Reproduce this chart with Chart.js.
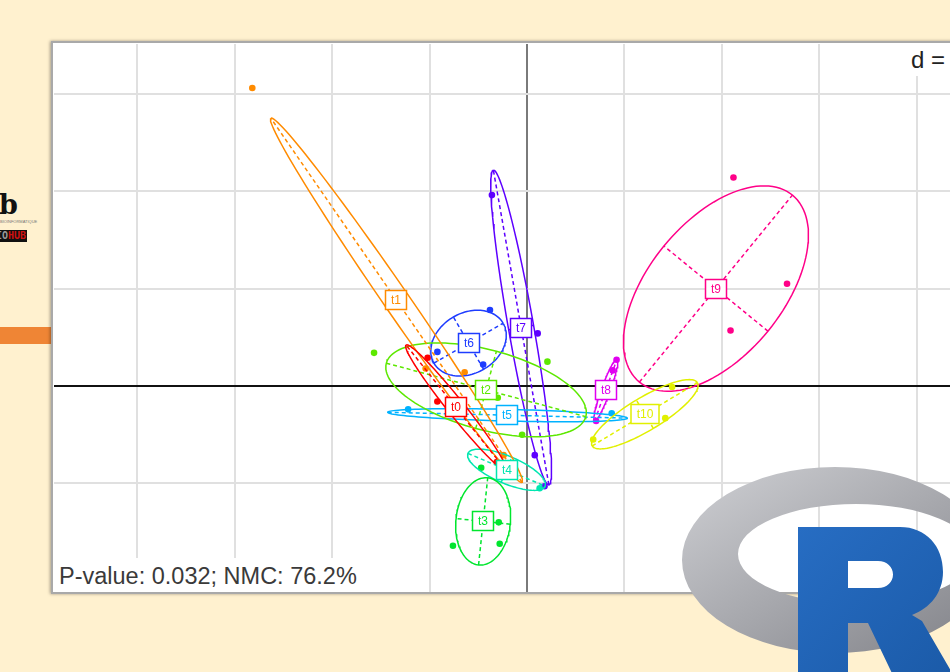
<!DOCTYPE html>
<html><head><meta charset="utf-8">
<script src="https://cdn.jsdelivr.net/npm/chart.js@4.4.1/dist/chart.umd.min.js"></script>
<style>
html,body{margin:0;padding:0;width:950px;height:672px;overflow:hidden;background:#fff1cf;font-family:"Liberation Sans",Arial,sans-serif;}
#panel{position:absolute;left:51px;top:41px;width:1000px;height:549px;background:#fff;border:2px solid #a9a9a9;box-shadow:-1px 0 3px rgba(0,0,0,0.35);}
#wrap{position:absolute;left:54px;top:44px;width:1000px;height:548px;}
#sub{position:absolute;left:54px;top:558px;width:312px;height:34px;background:#fff;color:#3a3a3a;font-size:23.5px;line-height:31px;padding-top:3px;box-sizing:border-box;padding-left:5px;white-space:nowrap;}
#dlab{position:absolute;left:905px;top:44px;width:120px;height:32px;background:#fff;color:#222;font-size:24px;line-height:32px;padding-left:6px;box-sizing:border-box;white-space:nowrap;}
#logob{position:absolute;left:-1px;top:190px;font-family:"DejaVu Serif","Liberation Serif",serif;font-weight:bold;font-size:27px;color:#111;line-height:30px;}
#logot{position:absolute;left:0;top:219px;font-size:4px;color:#777;line-height:5px;white-space:nowrap;}
#hub{position:absolute;left:0;top:230px;width:27px;height:12px;background:#111;overflow:hidden;}
#hub span{position:absolute;right:1px;top:0;font-family:"DejaVu Sans Mono",monospace;font-weight:bold;font-size:10px;line-height:12px;white-space:nowrap;}
#bar{position:absolute;left:0;top:327px;width:51px;height:17px;background:#ef8535;}
#rlogo{position:absolute;left:0;top:0;pointer-events:none;}
</style></head>
<body>
<div id="logob">b</div>
<div id="logot">BIOINFORMATIQUE</div>
<div id="hub"><span><span style="position:static;color:#999">IO</span><span style="position:static;color:#d01010">HUB</span></span></div>
<div id="bar"></div>
<div id="panel"></div>
<div id="wrap"><canvas id="c"></canvas></div>
<div id="sub"></div>
<div id="dlab"></div>
<svg id="rlogo" width="950" height="672">
<defs>
<linearGradient id="rg" x1="0" y1="0" x2="1" y2="1"><stop offset="0" stop-color="#cfd0d4"/><stop offset="1" stop-color="#808187"/></linearGradient>
<linearGradient id="bgr" x1="0" y1="0" x2="1" y2="1"><stop offset="0" stop-color="#276dc3"/><stop offset="1" stop-color="#1a59a6"/></linearGradient>
</defs>
<path fill="url(#rg)" fill-rule="evenodd" d="M682,560 a153,93 0 1,0 306,0 a153,93 0 1,0 -306,0 Z M738,554 a118,50 0 1,0 236,0 a118,50 0 1,0 -236,0 Z"/>
<path fill="url(#bgr)" fill-rule="evenodd" d="M798,527 L900,527 C926,527 943,546 943,572 C943,593 930,608 912,615 L922,621 L962,690 L900,690 L868,623 L848,623 L848,690 L798,690 Z M848,561 L878,561 C887,561 893,567 893,574.5 C893,582 887,588 878,588 L848,588 Z"/>
</svg>
<script>
// ---- data ----
const groups      = ['t0','t1','t10','t2','t3','t4','t5','t6','t7','t8','t9'];
const groupColors = ['#FF0000','#FF8B00','#E1F000','#5DE800','#00E62E','#00E6B0','#00B2FF','#1E3CFF','#5D00FF','#E000F0','#FF0088'];
const centerX   = [-0.73,-1.34, 1.21,-0.42,-0.45,-0.21,-0.20,-0.60,-0.06, 0.81, 1.94];
const centerY   = [-0.22, 0.88,-0.29,-0.04,-1.39,-0.86,-0.30, 0.44, 0.60,-0.04, 1.00];
const semiMajor = [ 0.82, 2.27, 0.63, 1.06, 0.45, 0.43, 1.23, 0.41, 1.64, 0.34, 1.24];
const semiMinor = [0.085, 0.13, 0.17, 0.41, 0.28, 0.14, 0.06, 0.31, 0.13,0.045, 0.69];
const axisAngle = [128.6,124.6,   31,  -15,   84,  -23, -1.4,   30,  100,   70, 50.7];
const pointGroup = ['t0','t0','t0','t1','t1','t1','t1','t2','t2','t2','t2','t3','t3','t3','t3','t4','t5','t5','t6','t6','t6','t7','t7','t7','t7','t8','t8','t8','t9','t9','t9','t10','t10','t10'];
const pointX = [-1.02,-0.92,-0.31,-2.82,-1.04,-0.64,-0.24,-1.57, 0.21,-0.30,-0.05,-0.47,-0.76,-0.29,-0.28, 0.13,-1.22, 0.87,-0.38,-0.92,-0.45,-0.36, 0.11, 0.08, 0.18, 0.92, 0.88, 0.71, 2.12, 2.67, 2.09, 0.68, 1.49, 1.42];
const pointY = [ 0.29,-0.16,-0.78, 3.06, 0.18, 0.14,-0.71, 0.34, 0.25,-0.12,-0.50,-0.84,-1.64,-1.40,-1.62,-1.05,-0.24,-0.28, 0.78, 0.35, 0.22, 1.96, 0.54,-0.71,-1.03, 0.27, 0.16,-0.36, 2.14, 1.05, 0.57,-0.55,-0.01,-0.33];
const xRange = [-4.856, 5.411];
const yRange = [-2.115, 3.511];
const subtitleText = 'P-value: 0.032; NMC: 76.2%';
const scaleText = 'd = 1';

document.getElementById('sub').textContent = subtitleText;
document.getElementById('dlab').textContent = scaleText;

const datasets = [];
groups.forEach((g, i) => {
  const cx = centerX[i], cy = centerY[i], a = semiMajor[i], b = semiMinor[i];
  const th = axisAngle[i] * Math.PI / 180, c = Math.cos(th), s = Math.sin(th);
  const ell = [];
  for (let k = 0; k <= 120; k++) {
    const t = k / 120 * 2 * Math.PI;
    ell.push({x: cx + a*Math.cos(t)*c - b*Math.sin(t)*s, y: cy + a*Math.cos(t)*s + b*Math.sin(t)*c});
  }
  const common = {showLine: true, pointRadius: 0, borderColor: groupColors[i], borderWidth: 1.5, fill: false, tension: 0};
  datasets.push(Object.assign({label: g + ' ellipse', data: ell}, common));
  datasets.push(Object.assign({label: g + ' major', data: [{x: cx - a*c, y: cy - a*s}, {x: cx + a*c, y: cy + a*s}], borderDash: [4, 3]}, common));
  datasets.push(Object.assign({label: g + ' minor', data: [{x: cx + b*s, y: cy - b*c}, {x: cx - b*s, y: cy + b*c}], borderDash: [4, 3]}, common));
});
groups.forEach((g, i) => {
  const pts = [];
  pointGroup.forEach((pg, k) => { if (pg === g) pts.push({x: pointX[k], y: pointY[k]}); });
  datasets.push({label: g, data: pts, showLine: false, pointRadius: 3.3, pointBorderWidth: 0, pointBackgroundColor: groupColors[i], backgroundColor: groupColors[i]});
});

const labelPlugin = {
  id: 'groupLabels',
  afterDatasetsDraw(chart) {
    const {ctx, scales: {x, y}} = chart;
    ctx.save();
    ctx.font = '12px "Liberation Sans", Arial, sans-serif';
    ctx.textAlign = 'center'; ctx.textBaseline = 'middle';
    groups.forEach((g, i) => {
      const px = Math.round(x.getPixelForValue(centerX[i])), py = Math.round(y.getPixelForValue(centerY[i]));
      const w = Math.round(ctx.measureText(g).width + 11), h = 19;
      ctx.fillStyle = '#fff';
      ctx.fillRect(px - w/2, py - h/2, w, h);
      ctx.strokeStyle = groupColors[i]; ctx.lineWidth = 1.5;
      ctx.strokeRect(px - w/2, py - h/2, w, h);
      ctx.fillStyle = groupColors[i];
      ctx.fillText(g, px, py + 1);
    });
    ctx.restore();
  }
};

const gridColor = (ctx, zeroColor) => {
  const v = ctx.tick.value;
  if (Math.abs(v) < 1e-9) return zeroColor;
  return Math.abs(v - Math.round(v)) < 1e-9 ? '#e0e0e0' : 'rgba(0,0,0,0)';
};

new Chart(document.getElementById('c'), {
  type: 'scatter',
  data: {datasets},
  options: {
    responsive: true, maintainAspectRatio: false, animation: false, devicePixelRatio: 1,
    layout: {padding: 0, autoPadding: false},
    plugins: {legend: {display: false}, tooltip: {enabled: false}},
    scales: {
      x: {type: 'linear', min: xRange[0], max: xRange[1],
          ticks: {display: false, stepSize: 1},
          border: {display: false},
          afterFit: s => { s.height = 0; },
          grid: {drawTicks: false, color: c => gridColor(c, '#7a7a7a'), lineWidth: 2}},
      y: {type: 'linear', min: yRange[0], max: yRange[1],
          ticks: {display: false, stepSize: 1},
          border: {display: false},
          afterFit: s => { s.width = 0; },
          grid: {drawTicks: false, color: c => gridColor(c, '#111111'), lineWidth: 2}}
    }
  },
  plugins: [labelPlugin]
});
</script>
</body></html>
